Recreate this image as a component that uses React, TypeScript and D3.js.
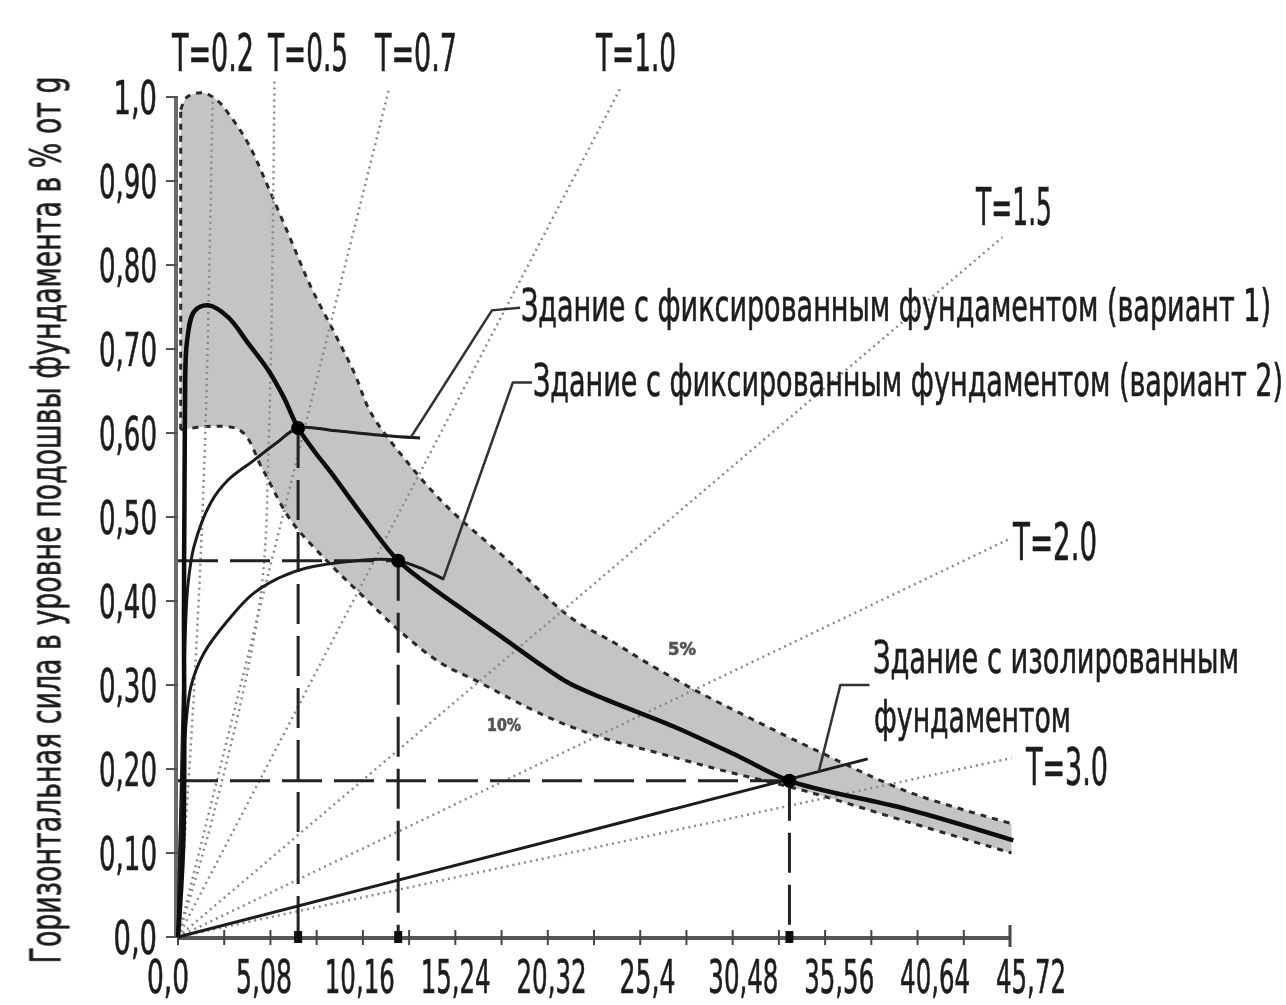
import React from "react";
import * as d3 from "d3";

const W = 1286;
const H = 1005;

// x: displacement, cm ; y: horizontal force, share of g
const xTickLabels = ["0,0", "5,08", "10,16", "15,24", "20,32", "25,4", "30,48", "35,56", "40,64", "45,72"];
const yTickLabels = ["0,0", "0,10", "0,20", "0,30", "0,40", "0,50", "0,60", "0,70", "0,80", "0,90", "1,0"];
const xMax = 45.72;
const xMinorStep = 2.54;

// shaded band (5% .. 10% damping)
const bandUpper: [number, number][] = [
  [0.15, 0.985], [0.5, 1.0], [1.4, 1.005], [2.2, 0.995], [2.75, 0.981], [3.85, 0.945],
  [4.95, 0.893], [6.2, 0.83], [7.3, 0.774], [8.6, 0.719], [9.7, 0.671], [10.6, 0.624],
  [12.5, 0.568], [14.8, 0.512], [18.1, 0.449], [21.6, 0.38], [24.0, 0.35], [25.8, 0.326],
  [28.4, 0.294], [31.3, 0.262], [34.8, 0.225], [40.1, 0.173], [45.8, 0.135],
];
const bandLower: [number, number][] = [
  [0.15, 0.604], [3.35, 0.604], [4.67, 0.556], [6.2, 0.496], [8.4, 0.443], [10.2, 0.405],
  [12.25, 0.363], [14.45, 0.326], [16.3, 0.306], [20.3, 0.262], [23.2, 0.238], [26.4, 0.219],
  [29.8, 0.199], [34.6, 0.173], [40.1, 0.137], [45.8, 0.1],
];

const mainCurve: [number, number][] = [
  [0, 0], [0.3, 0.12], [0.33, 0.4], [0.38, 0.62], [0.5, 0.71], [0.9, 0.745], [1.65, 0.752],
  [2.75, 0.738], [3.85, 0.707], [4.95, 0.675], [5.8, 0.643], [6.6, 0.606], [7.5, 0.578],
  [8.4, 0.553], [10.2, 0.5], [12.1, 0.448], [13.9, 0.417], [15.9, 0.386], [17.8, 0.357],
  [20.0, 0.323], [21.5, 0.302], [23.6, 0.282], [27.3, 0.25], [30.9, 0.214], [33.6, 0.186],
  [40.1, 0.152], [45.9, 0.115],
];
const variant1: [number, number][] = [
  [0, 0], [0.15, 0.15], [0.35, 0.33], [0.55, 0.42], [0.88, 0.465], [1.8, 0.517], [2.75, 0.544],
  [4.2, 0.568], [5.4, 0.588], [6.6, 0.606], [8.5, 0.603], [10.8, 0.598], [13.3, 0.594],
];
const variant2: [number, number][] = [
  [0, 0], [0.1, 0.1], [0.3, 0.21], [0.71, 0.298], [1.43, 0.338], [2.75, 0.377], [4.2, 0.41],
  [6.4, 0.435], [9.0, 0.446], [12.1, 0.448], [14.6, 0.426],
];
const isolated: [number, number][] = [[0, 0], [37.9, 0.212]];
const perfPoints: [number, number][] = [[6.6, 0.606], [12.1, 0.448], [33.6, 0.186]];

const periodLabels = ["T=0.2", "T=0.5", "T=0.7", "T=1.0", "T=1.5", "T=2.0", "T=3.0"];
const periodLines: [number, number][][] = [
  [[0, 0], [0.9, 0.3], [1.5, 0.6], [1.9, 1.0]],
  [[0, 0], [2.0, 0.15], [4.5, 0.4], [5.0, 0.6], [5.3, 1.02]],
  [[0, 0], [11.6, 1.01]],
  [[0, 0], [24.3, 1.01]],
  [[0, 0], [45.3, 0.833]],
  [[0, 0], [45.6, 0.473]],
  [[0, 0], [45.8, 0.213]],
];

const leaderLines: [number, number][][] = [
  [[18.8, 0.749], [17.25, 0.746], [12.8, 0.595]],
  [[19.45, 0.66], [18.4, 0.66], [14.56, 0.425]],
  [[38.0, 0.3], [36.4, 0.3], [35.2, 0.196]],
];

const FONT = "'DejaVu Sans Condensed', 'DejaVu Sans', sans-serif";
const STRETCH = 1.8; // the source lettering is tall and narrow

// size = apparent size; the glyphs are drawn smaller and stretched upward
function NText({ x, y, len, size, anchor = "start", fill = "#1e1e1e", weight = "normal", children, rotate = 0 }: any) {
  const fs = size / STRETCH;
  return (
    <text transform={`translate(${x},${y}) rotate(${rotate}) scale(1,${STRETCH})`} fontSize={fs}
      textLength={len} lengthAdjust="spacingAndGlyphs" textAnchor={anchor} fill={fill}
      stroke={fill} strokeWidth={0.35} fontWeight={weight} fontFamily={FONT}>
      {children}
    </text>
  );
}

export default function App() {
  const x = d3.scaleLinear().domain([0, xMax]).range([178, 1010]);
  const y = d3.scaleLinear().domain([0, 1]).range([937, 97]);
  const xLabelPos = d3.scalePoint<string>().domain(xTickLabels).range([x(0) - 10, x(xMax) + 21]);

  const line = d3.line<[number, number]>().x(d => x(d[0])).y(d => y(d[1]));
  const smooth = d3.line<[number, number]>().x(d => x(d[0])).y(d => y(d[1])).curve(d3.curveCatmullRom.alpha(0.5));

  const bandPath = smooth(bandUpper)! + "L" + smooth([...bandLower].reverse())!.slice(1) + "Z";
  const minorTicks = d3.range(0, xMax + 0.01, xMinorStep);
  const yTicks = d3.range(0, 1.001, 0.1);

  const dash = "40 12";

  return (
    <svg width={W} height={H} style={{ position: "absolute", left: 0, top: 0, background: "#fff" }}>
      <defs>
        <filter id="soft" x="0" y="0" width="1" height="1">
          <feGaussianBlur stdDeviation="0.7" />
        </filter>
      </defs>
      <rect width={W} height={H} fill="#fff" />
      <g filter="url(#soft)">
        {/* band */}
        <path d={bandPath} fill="#c4c4c4" stroke="none" />
        <path d={smooth(bandUpper)!} fill="none" stroke="#2a2a2a" strokeWidth={3} strokeDasharray="6 6" />
        <path d={smooth(bandLower)!} fill="none" stroke="#2a2a2a" strokeWidth={3} strokeDasharray="6 6" />
        <path d={line([[bandLower[0][0], bandLower[0][1]], [bandUpper[0][0], bandUpper[0][1]]])!}
          fill="none" stroke="#2a2a2a" strokeWidth={3} strokeDasharray="6 6" />

        {/* period lines */}
        {periodLines.map((pts, i) => (
          <path key={i} d={smooth(pts)!} fill="none" stroke="#8a8a8a" strokeWidth={2.5} strokeDasharray="2 4" />
        ))}

        {/* dashed guides */}
        {perfPoints.slice(1).map(([sd, sa], i) => (
          <line key={"h" + i} x1={x(0)} x2={x(sd)} y1={y(sa)} y2={y(sa)} stroke="#222" strokeWidth={3} strokeDasharray={dash} />
        ))}
        {perfPoints.map(([sd, sa], i) => (
          <line key={"v" + i} x1={x(sd)} x2={x(sd)} y1={y(sa)} y2={y(0)} stroke="#222" strokeWidth={3} strokeDasharray={dash} />
        ))}

        {/* axes */}
        <line x1={x(0) - 2} x2={x(0) - 2} y1={y(1)} y2={y(0)} stroke="#6a6a6a" strokeWidth={4} />
        <line x1={x(0)} x2={x(xMax)} y1={y(0) + 1} y2={y(0) + 1} stroke="#555" strokeWidth={4} />
        {minorTicks.map((t, i) => (
          <line key={i} x1={x(t)} x2={x(t)} y1={y(0) - 7} y2={y(0) + 8} stroke="#444" strokeWidth={2} />
        ))}
        <line x1={x(xMax)} x2={x(xMax)} y1={y(0) - 12} y2={y(0) + 10} stroke="#444" strokeWidth={3} />
        {yTicks.map((t, i) => (
          <line key={i} x1={x(0) - 12} x2={x(0)} y1={y(t)} y2={y(t)} stroke="#555" strokeWidth={2} />
        ))}

        {/* curves */}
        <path d={smooth(variant1)!} fill="none" stroke="#1a1a1a" strokeWidth={3} />
        <path d={smooth(variant2)!} fill="none" stroke="#1a1a1a" strokeWidth={3} />
        <path d={line(isolated)!} fill="none" stroke="#1a1a1a" strokeWidth={3} />
        <path d={smooth(mainCurve)!} fill="none" stroke="#0a0a0a" strokeWidth={4.5} />

        {perfPoints.map(([sd, sa], i) => (
          <g key={i}>
            <circle cx={x(sd)} cy={y(sa)} r={7} fill="#000" />
            <rect x={x(sd) - 4} y={y(0) - 6} width={8} height={12} fill="#111" />
          </g>
        ))}

        {/* leaders */}
        {leaderLines.map((pts, i) => (
          <path key={i} d={line(pts)!} fill="none" stroke="#333" strokeWidth={2.5} />
        ))}

        {/* tick labels */}
        {xTickLabels.map(l => (
          <NText key={l} x={xLabelPos(l)} y={993} size={46} len={14 * l.length} anchor="middle">{l}</NText>
        ))}
        {yTickLabels.map((l, i) => (
          <NText key={l} x={157} y={y(i / 10) + 17} size={46} len={14.5 * l.length} anchor="end">{l}</NText>
        ))}

        {/* period labels */}
        <NText x={172} y={71} size={52} len={82}>{periodLabels[0]}</NText>
        <NText x={268} y={71} size={52} len={80}>{periodLabels[1]}</NText>
        <NText x={375} y={71} size={52} len={82}>{periodLabels[2]}</NText>
        <NText x={596} y={71} size={52} len={80}>{periodLabels[3]}</NText>
        <NText x={976} y={225} size={52} len={76}>{periodLabels[4]}</NText>
        <NText x={1013} y={560} size={52} len={84}>{periodLabels[5]}</NText>
        <NText x={1026} y={785} size={52} len={82}>{periodLabels[6]}</NText>

        {/* annotations */}
        <NText x={521} y={321} size={44} len={750}>Здание с фиксированным фундаментом (вариант 1)</NText>
        <NText x={533} y={396} size={44} len={750}>Здание с фиксированным фундаментом (вариант 2)</NText>
        <NText x={873} y={673} size={44} len={366}>Здание с изолированным</NText>
        <NText x={874} y={732} size={44} len={197}>фундаментом</NText>
        <NText x={668} y={655} size={17} len={28} fill="#555" weight="bold">5%</NText>
        <NText x={487} y={731} size={17} len={34} fill="#555" weight="bold">10%</NText>

        {/* y title */}
        <NText x={60} y={520} rotate={-90} size={42} len={887} anchor="middle">
          Горизонтальная сила в уровне подошвы фундамента в % от g
        </NText>
      </g>
    </svg>
  );
}
